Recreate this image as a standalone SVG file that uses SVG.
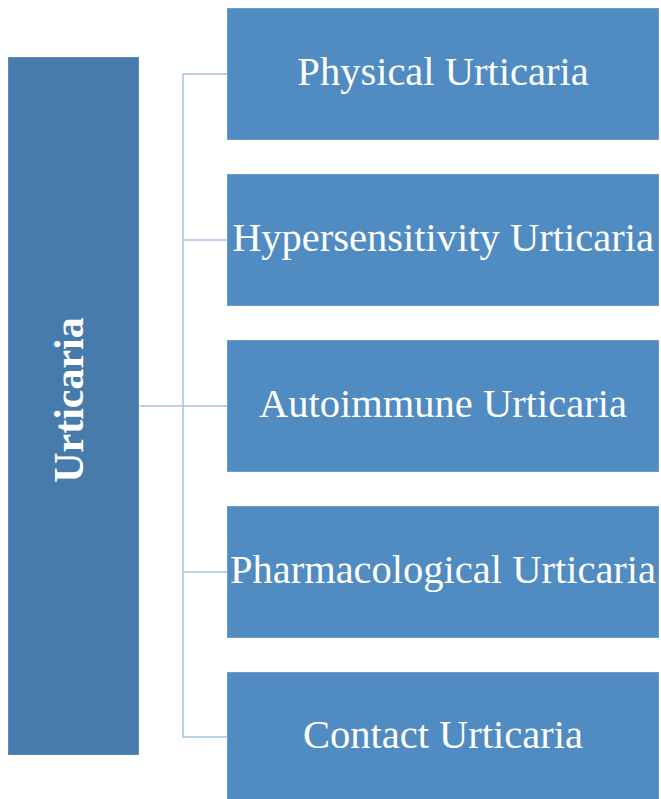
<svg xmlns="http://www.w3.org/2000/svg" width="661" height="799" viewBox="0 0 661 799">
<style>
.root{fill:#467bab;stroke:#5b8cbc;stroke-width:1}
.box{fill:#508bc1;stroke:#6a9ccc;stroke-width:1}
.lbl{font-family:"Liberation Serif","Times New Roman",serif;font-size:40.5px;fill:#ffffff;text-anchor:middle}
.rootlbl{font-family:"Liberation Serif","Times New Roman",serif;font-size:42px;font-weight:bold;fill:#ffffff;text-anchor:middle}
.conn{fill:none;stroke:#a6c4e6;stroke-width:1.5}
</style>
<rect width="661" height="799" fill="#ffffff"/>
<g id="connectors">
<path class="conn" d="M139.5 406 H227"/>
<path class="conn" d="M227 74 H183 V737 H227"/>
<path class="conn" d="M183 240 H227"/>
<path class="conn" d="M183 572 H227"/>
</g>
<g id="root">
<rect class="root" x="8.5" y="57.5" width="130" height="697"/>
<text class="rootlbl" transform="translate(83 400) rotate(-90)">Urticaria</text>
</g>
<g id="physical">
<rect class="box" x="227.5" y="8.5" width="431" height="131"/>
<text class="lbl" x="443" y="85">Physical Urticaria</text>
</g>
<g id="hypersensitivity">
<rect class="box" x="227.5" y="174.5" width="431" height="131"/>
<text class="lbl" x="443" y="251">Hypersensitivity Urticaria</text>
</g>
<g id="autoimmune">
<rect class="box" x="227.5" y="340.5" width="431" height="131"/>
<text class="lbl" x="443" y="417">Autoimmune Urticaria</text>
</g>
<g id="pharmacological">
<rect class="box" x="227.5" y="506.5" width="431" height="131"/>
<text class="lbl" x="443" y="583">Pharmacological Urticaria</text>
</g>
<g id="contact">
<rect class="box" x="227.5" y="672.5" width="431" height="131"/>
<text class="lbl" x="443" y="748">Contact Urticaria</text>
</g>
</svg>
